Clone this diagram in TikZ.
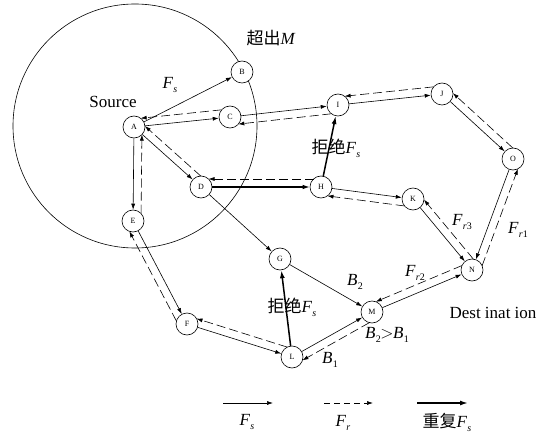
\documentclass[tikz,border=0pt]{standalone}
\usepackage{fontspec}
\setmainfont{Liberation Serif}
\newfontfamily\cjk{Noto Sans CJK SC}
\usetikzlibrary{arrows.meta,calc}
% italic symbol with a lowered, smaller subscript
\newcommand\vsub[2]{#1\kern0.3pt\raisebox{-0.5ex}{\fontsize{10}{10}\selectfont #2}}
\newcommand\Fx[1]{\vsub{\textit{F}}{#1}}
% dashed return flow from #1 to #2, shifted sideways (#3 at start, #4 at end)
\newcommand\frback[4]{\draw[fr] ($(#1)!8pt!#3:(#2)$) -- ($(#2)!8pt!#4:(#1)$);}

\begin{document}
\begin{tikzpicture}[x=1pt,y=-1pt,
  nd/.style={circle,draw,fill=white,line width=0.6pt,minimum size=22pt,inner sep=0pt,
    font=\fontsize{8}{8}\selectfont},
  fs/.style={line width=0.6pt,-{Latex[length=6pt,width=4pt]}},
  fsrep/.style={line width=1.5pt,-{Latex[length=8pt,width=5pt]}},
  fsmid/.style={line width=1.1pt,-{Latex[length=7pt,width=4.5pt]}},
  fr/.style={line width=0.6pt,dash pattern=on 9pt off 4pt,shorten <=7.5pt,shorten >=7.5pt,
    -{Latex[length=6pt,width=4pt]}},
  frkey/.style={line width=0.6pt,dash pattern=on 6pt off 4pt,-{Latex[length=6pt,width=4pt]}},
  lbl/.style={font=\fontsize{17}{17}\selectfont,inner sep=0pt}]
\useasboundingbox (0,0) rectangle (553,438);

% transmission range of the source
\node[draw,circle,line width=0.6pt,minimum size=244pt,inner sep=0pt] (range) at (135,126) {};

% network nodes
\node[nd] (A) at (134,127) {A};
\node[nd] (B) at (242,72) {B};
\node[nd] (C) at (230,117) {C};
\node[nd] (I) at (338,105) {I};
\node[nd] (J) at (442,94) {J};
\node[nd] (O) at (513,159) {O};
\node[nd] (D) at (201,187) {D};
\node[nd] (H) at (321,187) {H};
\node[nd] (K) at (413,199) {K};
\node[nd] (E) at (133,221) {E};
\node[nd] (G) at (280,259) {G};
\node[nd] (N) at (472,270) {N};
\node[nd] (M) at (372,312) {M};
\node[nd] (F) at (187,324) {F};
\node[nd] (L) at (292,357) {L};

% forward requests F_s
\draw[fs] (A) -- (B);
\draw[fs] (A) -- (C);
\draw[fs] (C) -- (I);
\draw[fs] (I) -- (J);
\draw[fs] (J) -- (O);
\draw[fs] (O) -- (N);
\draw[fs] (K) -- (N);
\draw[fs] (H) -- (K);
\draw[fs] (A) -- (D);
\draw[fs] (A) -- (E);
\draw[fs] (E) -- (F);
\draw[fs] (F) -- (L);
\draw[fs] (L) -- (M);
\draw[fs] (M) -- (N);
\draw[fs] (D) -- (G);
\draw[fs] (G) -- (M);
\draw[fsmid] (D) -- (H);

% repeated requests
\draw[fsrep] (H) -- (I);
\draw[fsrep] (L) -- (G);

% replies F_r
\frback{C}{A}{-90}{90}
\frback{I}{C}{90}{-90}
\frback{J}{I}{-90}{90}
\frback{O}{J}{-90}{90}
\frback{N}{O}{-90}{90}
\frback{N}{K}{-90}{90}
\frback{K}{H}{90}{-90}
\frback{H}{D}{-90}{90}
\frback{D}{A}{-90}{90}
\frback{E}{A}{-90}{90}
\frback{F}{E}{90}{-90}
\frback{L}{F}{-90}{90}
\frback{M}{L}{90}{-90}
\frback{N}{M}{-90}{90}

% labels
\node[lbl] (tsrc) at (113,102) {Source};
\node[lbl] (tdst) at (493,313) {Dest inat ion};
\node[lbl] (tout) at (271,38) {{\cjk 超出}\textit{M}};
\node[lbl] (tfs) at (170,85) {\Fx{\textit{s}}};
\node[lbl] (trej1) at (336,148) {{\cjk 拒绝}\Fx{\textit{s}}};
\node[lbl] (trej2) at (292,307) {{\cjk 拒绝}\Fx{\textit{s}}};
\node[lbl] (tr3) at (462,222) {\Fx{\textit{r}3}};
\node[lbl] (tr1) at (518,230) {\Fx{\textit{r}1}};
\node[lbl] (tr2) at (415,273) {\Fx{\textit{r}2}};
\node[lbl] (tb2) at (355,282) {\vsub{\textit{B}}{2}};
\node[lbl] (tcmp) at (387,335) {\vsub{\textit{B}}{2}\kern-0.5pt$>$\kern-0.5pt\vsub{\textit{B}}{1}};
\node[lbl] (tb1) at (330,360) {\vsub{\textit{B}}{1}};

% key
\coordinate (k1s) at (223,403); \coordinate (k1e) at (273,403);
\coordinate (k2s) at (324,403); \coordinate (k2e) at (373,403);
\coordinate (k3s) at (417,403); \coordinate (k3e) at (468,403);
\draw[fs] (k1s) -- (k1e);
\draw[frkey] (k2s) -- (k2e);
\draw[fsrep] (k3s) -- (k3e);
\node[lbl] (kfs) at (247,422) {\Fx{\textit{s}}};
\node[lbl] (kfr) at (343,423) {\Fx{\textit{r}}};
\node[lbl] (kfrep) at (447,422) {{\cjk 重复}\Fx{\textit{s}}};
\end{tikzpicture}
\end{document}
